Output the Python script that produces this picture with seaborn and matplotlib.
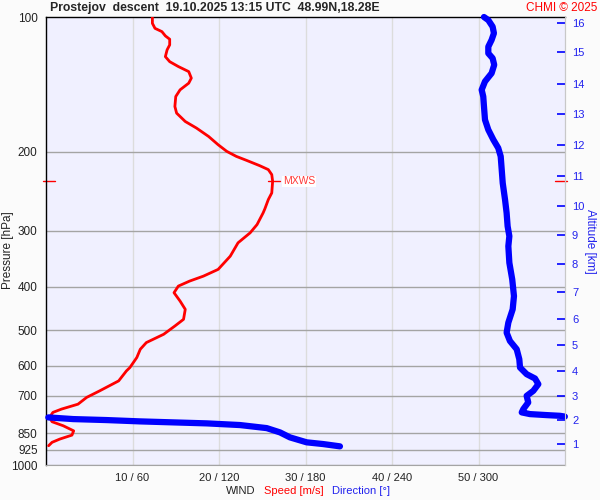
import numpy as np
import matplotlib
matplotlib.use('Agg')
import matplotlib.pyplot as plt
from matplotlib.ticker import NullLocator
import seaborn as sns

# Vertikalni profil vetru (sestup)
speed_p = [100, 103.3, 106.0, 107.8, 110.2, 112.1, 115.4, 118.4, 122.6, 125.8, 129.0,
           132.4, 136.9, 140.5, 145.4, 150.5, 158.4, 163.9, 171.1, 177.0, 184.8, 192.8,
           199.5, 204.7, 209.0, 214.7, 219.1, 224.8, 232.7, 247.0, 255.6, 268.1, 273.7,
           290.6, 303.2, 319.2, 341.9, 365.9, 378.8, 388.6, 398.7, 412.5, 430.6, 449.3,
           473.0, 489.5, 510.8, 533.0, 551.6, 575.5, 605.9, 616.5, 649.0, 683.2, 706.5,
           731.5, 750.2, 763.1, 783.0, 800.6, 817.5, 839.0, 857.6, 875.2, 890.0, 905.7]
speed = [12.3, 12.3, 12.6, 13.4, 13.8, 14.3, 14.3, 14.0, 13.8, 14.3, 15.3,
         16.5, 16.8, 16.5, 15.5, 15.0, 14.9, 15.1, 16.1, 17.4, 18.8, 19.9,
         20.9, 22.0, 23.2, 24.7, 25.7, 26.1, 26.2, 26.1, 25.7, 25.3, 25.1,
         24.4, 23.6, 22.2, 21.3, 19.9, 18.2, 16.6, 15.3, 14.8, 15.5, 16.1,
         15.9, 14.9, 13.6, 11.6, 10.9, 10.5, 9.7, 9.3, 8.4, 6.2, 4.7,
         3.7, 1.8, 0.8, 0.4, 0.7, 2.0, 3.2, 3.0, 1.6, 0.7, 0.3]

dir_p = [100, 101.6, 105.1, 108.7, 112.5, 116.5, 120.5, 123.6, 127.9, 133.5, 139.3,
         145.4, 150.5, 158.4, 169.6, 178.5, 187.9, 196.1, 204.7, 219.1, 234.7, 255.6,
         273.7, 293.1, 308.5, 324.8, 353.6, 385.3, 419.7, 449.3, 481.0, 506.4, 528.6,
         551.6, 580.6, 605.9, 627.0, 641.1, 660.0, 683.2, 700.9, 725.1, 750.2, 763.1,
         769.8, 773.8, 776.6, 779.7, 783.0, 789.8, 793.8, 799.2, 803.3, 807.4, 814.4,
         827.3, 845.7, 867.6, 890.0, 898.0, 908.6]
direction = [303.8, 306.8, 309.8, 310.7, 309.1, 306.8, 306.8, 309.8, 310.9, 309.1, 304.5,
             302.2, 303.3, 303.8, 304.5, 306.8, 310.3, 313.7, 315.4, 316.1, 316.8, 318.4,
             319.5, 320.2, 321.4, 320.7, 321.4, 323.4, 324.6, 323.7, 320.7, 319.5, 321.8,
             326.5, 328.3, 328.8, 333.4, 339.2, 341.5, 338.0, 333.4, 334.5, 331.1, 330.0,
             335.7, 347.3, 356.5, 359.9, 1.6, 18.9, 42.1, 65.2, 88.3, 111.5, 134.6,
             153.1, 162.3, 169.2, 180.8, 192.3, 203.9]

p_ticks = [100, 200, 300, 400, 500, 600, 700, 850, 925, 1000]
x_ticks = [10, 20, 30, 40, 50]
x_labels = ['10 / 60', '20 / 120', '30 / 180', '40 / 240', '50 / 300']
alt_km = list(range(1, 17))
alt_p = [899, 795, 701, 616, 540, 472, 411, 356, 307, 264, 226, 193, 165, 141, 120, 103]

sns.set_style('white')
plt.rcParams['font.family'] = ['Liberation Sans', 'DejaVu Sans']

blue_txt = '#2222ee'

fig, ax = plt.subplots(figsize=(6, 5), dpi=100)
fig.patch.set_facecolor('#fbfbfb')
ax.set_facecolor('#f0f0ff')
fig.subplots_adjust(left=46/600, right=565/600, top=1-17/500, bottom=1-465/500)

ax.set_yscale('log')
ax.set_ylim(1000, 100)
ax.set_xlim(0, 60)

# mrizka
for p in p_ticks[1:]:
    ax.axhline(p, color='#a4a4a4', lw=1, zorder=1)
for v in x_ticks:
    ax.axvline(v, color='#dcdcdc', lw=1, zorder=0.5)

# rychlost
sns.lineplot(x=speed, y=speed_p, sort=False, estimator=None, color='red', lw=2, ax=ax, zorder=3)

# smer - rozdelit pri preskoku 360 -> 0
d = np.array(direction)
k = np.where(np.abs(np.diff(d)) > 180)[0][0] + 1
for a, b in [(0, k), (k, len(d))]:
    sns.lineplot(x=d[a:b] / 6.0, y=dir_p[a:b], sort=False, estimator=None, color='blue',
                 lw=4.5, ax=ax, zorder=4, solid_capstyle='round', clip_on=False)

# MXWS
i = int(np.argmax(speed))
ax.plot([speed[i] - 0.5, speed[i] + 0.9], [speed_p[i]] * 2, color='red', lw=1, zorder=5)
ax.text(27.4, speed_p[i], 'MXWS', color='#ff3838', fontsize=7.5, va='center', ha='left',
        bbox=dict(facecolor='white', edgecolor='none', pad=0.5), zorder=5)
ax.plot([-0.006, 0.017], [speed_p[i]] * 2, color='red', lw=1, transform=ax.get_yaxis_transform(), clip_on=False)
ax.plot([0.98, 1.004], [speed_p[i]] * 2, color='red', lw=1, transform=ax.get_yaxis_transform(), clip_on=False)

ax.set_yticks(p_ticks)
ax.set_yticklabels([str(p) for p in p_ticks])
ax.yaxis.set_minor_locator(NullLocator())
ax.set_xticks(x_ticks)
ax.set_xticklabels(x_labels)
ax.tick_params(axis='y', length=0, pad=6, labelsize=8.5, labelcolor='#222222')
ax.tick_params(axis='x', length=0, pad=6, labelsize=8, labelcolor='#222222')
ax.set_xlabel('')
ax.set_ylabel('')

for s in ['left', 'top']:
    ax.spines[s].set_color('black')
    ax.spines[s].set_linewidth(1)
ax.spines['right'].set_color('#c8c8c8')
ax.spines['bottom'].set_color('#a4a4a4')

# vyska
ax2 = ax.twinx()
ax2.set_yscale('log')
ax2.set_ylim(1000, 100)
ax2.set_yticks(alt_p)
ax2.set_yticklabels([str(a) for a in alt_km])
ax2.yaxis.set_minor_locator(NullLocator())
ax2.tick_params(axis='y', direction='in', length=6, width=1.2, color='blue', labelcolor=blue_txt,
                labelsize=8, pad=5)
for s in ['left', 'top', 'bottom']:
    ax2.spines[s].set_visible(False)
ax2.spines['right'].set_color('#c8c8c8')
ax2.set_ylabel('Altitude [km]', rotation=270, color=blue_txt, fontsize=8.5, labelpad=8)

fig.text(8/600, 1-250/500, 'Pressure [hPa]', rotation=90, ha='center', va='center', fontsize=8.5, color='#222222')
fig.text(50/600, 1-8/500, 'Prostejov  descent  19.10.2025 13:15 UTC  48.99N,18.28E',
         fontweight='bold', fontsize=8.8, va='center', ha='left')
fig.text(597/600, 1-8/500, 'CHMI © 2025', color='red', fontsize=8.5, va='center', ha='right')
fig.text(226/600, 1-491/500, 'WIND', color='#222222', fontsize=8, va='center', ha='left')
fig.text(264/600, 1-491/500, 'Speed [m/s]', color='red', fontsize=8, va='center', ha='left')
fig.text(332/600, 1-491/500, 'Direction [°]', color=blue_txt, fontsize=8, va='center', ha='left')

plt.savefig('out.png', dpi=100, facecolor=fig.get_facecolor())
